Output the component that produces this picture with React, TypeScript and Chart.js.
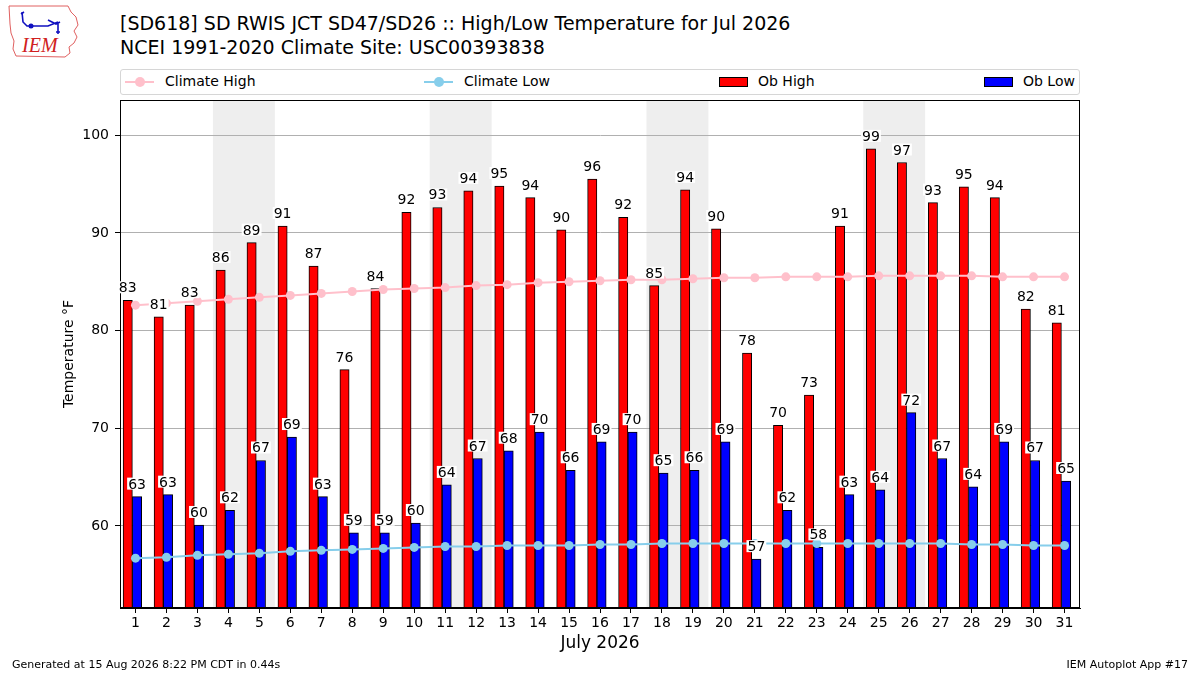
import React, { useEffect, useRef } from 'react';
import { Chart, registerables } from 'chart.js';

Chart.register(...registerables);

const DAYS = [1, 2, 3, 4, 5, 6, 7, 8, 9, 10, 11, 12, 13, 14, 15, 16, 17, 18, 19, 20, 21, 22, 23, 24, 25, 26, 27, 28, 29, 30, 31];

const OB_HIGH = [83.1, 81.4, 82.6, 86.2, 89.0, 90.7, 86.6, 76.0, 84.3, 92.1, 92.6, 94.3, 94.8, 93.6, 90.3, 95.5, 91.6, 84.6, 94.4, 90.4, 77.7, 70.3, 73.4, 90.7, 98.6, 97.2, 93.1, 94.7, 93.6, 82.2, 80.8];
const OB_LOW = [63.0, 63.2, 60.1, 61.6, 66.7, 69.1, 63.0, 59.3, 59.3, 60.3, 64.2, 66.9, 67.7, 69.6, 65.7, 68.6, 69.6, 65.4, 65.7, 68.6, 56.6, 61.6, 57.8, 63.2, 63.7, 71.6, 66.9, 64.0, 68.6, 66.7, 64.6];
const CLIMATE_HIGH = [82.6, 82.8, 83.0, 83.2, 83.4, 83.6, 83.8, 84.0, 84.2, 84.3, 84.4, 84.6, 84.7, 84.9, 85.0, 85.1, 85.2, 85.2, 85.3, 85.4, 85.4, 85.5, 85.5, 85.5, 85.6, 85.6, 85.6, 85.6, 85.5, 85.5, 85.5];
const CLIMATE_LOW = [56.7, 56.8, 57.0, 57.1, 57.2, 57.4, 57.5, 57.6, 57.7, 57.8, 57.9, 57.9, 58.0, 58.0, 58.0, 58.1, 58.1, 58.2, 58.2, 58.2, 58.2, 58.2, 58.2, 58.2, 58.2, 58.2, 58.2, 58.1, 58.1, 58.0, 58.0];

// weekends (Sat/Sun) of July 2026, listed by the Saturday
const WEEKEND_SATURDAYS = [4, 11, 18, 25];
const Y_TICKS = [60, 70, 80, 90, 100];

const FONT = '"DejaVu Sans", sans-serif';

// grey bands for the weekends, drawn under the grid
const weekendPlugin = {
  id: 'weekends',
  beforeDraw(chart: any) {
    const { ctx, chartArea, scales } = chart;
    ctx.save();
    ctx.fillStyle = '#eeeeee';
    WEEKEND_SATURDAYS.forEach((d) => {
      const x0 = scales.x.getPixelForValue(d - 0.5);
      const x1 = scales.x.getPixelForValue(d + 1.5);
      ctx.fillRect(x0, chartArea.top, x1 - x0, chartArea.bottom - chartArea.top);
    });
    ctx.restore();
  },
};

// value labels over the bars plus the axes frame
const barLabelPlugin = {
  id: 'barLabels',
  afterDatasetsDraw(chart: any) {
    const { ctx, chartArea } = chart;
    ctx.save();
    ctx.strokeStyle = '#000';
    ctx.lineWidth = 1;
    ctx.strokeRect(chartArea.left + 0.5, chartArea.top + 0.5, chartArea.right - chartArea.left - 1, chartArea.bottom - chartArea.top - 1);

    ctx.font = '14px ' + FONT;
    ctx.textAlign = 'center';
    ctx.textBaseline = 'alphabetic';
    chart.data.datasets.forEach((ds: any, i: number) => {
      if (ds.type !== 'bar') return;
      const meta = chart.getDatasetMeta(i);
      meta.data.forEach((bar: any, j: number) => {
        const txt = ds.data[j].y.toFixed(0);
        const w = ctx.measureText(txt).width;
        const base = bar.y - 8;
        ctx.fillStyle = '#fff';
        ctx.fillRect(bar.x - w / 2 - 1, base - 11, w + 2, 12);
        ctx.fillStyle = '#000';
        ctx.fillText(txt, bar.x, base);
      });
    });
    ctx.restore();
  },
};

function LegendLine({ left, color, label, textLeft }: { left: number; color: string; label: string; textLeft: number }) {
  return (
    <>
      <div style={{ position: 'absolute', left, top: 11, width: 29, height: 2, background: color }} />
      <div style={{ position: 'absolute', left: left + 10, top: 7, width: 10, height: 10, borderRadius: 5, background: color }} />
      <div style={{ position: 'absolute', left: textLeft, top: 3, fontSize: 14, lineHeight: '17px' }}>{label}</div>
    </>
  );
}

function LegendBox({ left, color, label, textLeft }: { left: number; color: string; label: string; textLeft: number }) {
  return (
    <>
      <div style={{ position: 'absolute', left, top: 7, width: 27, height: 8, background: color, border: '1px solid #000' }} />
      <div style={{ position: 'absolute', left: textLeft, top: 3, fontSize: 14, lineHeight: '17px' }}>{label}</div>
    </>
  );
}

export default function App() {
  const canvasRef = useRef<HTMLCanvasElement>(null);

  useEffect(() => {
    if (!canvasRef.current) return;
    const chart = new Chart(canvasRef.current, {
      type: 'bar',
      data: {
        datasets: [
          {
            type: 'line',
            label: 'Climate High',
            data: DAYS.map((d, i) => ({ x: d, y: CLIMATE_HIGH[i] })),
            borderColor: '#ffc0cb',
            backgroundColor: '#ffc0cb',
            borderWidth: 2,
            pointRadius: 4.5,
            pointBorderWidth: 0,
          },
          {
            type: 'line',
            label: 'Climate Low',
            data: DAYS.map((d, i) => ({ x: d, y: CLIMATE_LOW[i] })),
            borderColor: '#87ceeb',
            backgroundColor: '#87ceeb',
            borderWidth: 2,
            pointRadius: 4.5,
            pointBorderWidth: 0,
          },
          {
            type: 'bar',
            label: 'Ob High',
            data: DAYS.map((d, i) => ({ x: d - 0.25, y: OB_HIGH[i] })),
            backgroundColor: '#ff0000',
            borderColor: '#000',
            borderWidth: 1,
            borderSkipped: false,
            grouped: false,
            barPercentage: 1,
            categoryPercentage: 1,
          },
          {
            type: 'bar',
            label: 'Ob Low',
            data: DAYS.map((d, i) => ({ x: d + 0.05, y: OB_LOW[i] })),
            backgroundColor: '#0000ff',
            borderColor: '#000',
            borderWidth: 1,
            borderSkipped: false,
            grouped: false,
            barPercentage: 1,
            categoryPercentage: 1,
          },
        ] as any,
      },
      options: {
        animation: false,
        responsive: true,
        maintainAspectRatio: false,
        layout: { padding: { left: 0, top: 100, right: 120, bottom: 0 } },
        plugins: {
          legend: { display: false },
          tooltip: { enabled: false },
        },
        scales: {
          x: {
            type: 'linear',
            offset: false,
            min: 0.5,
            max: 31.5,
            afterBuildTicks: (scale: any) => {
              scale.ticks = DAYS.map((d) => ({ value: d }));
            },
            afterFit: (scale: any) => {
              scale.height = 67;
            },
            grid: { offset: false, drawOnChartArea: false, drawTicks: true, tickLength: 5, tickColor: '#000' },
            border: { display: true, color: '#000' },
            ticks: { color: '#000', font: { family: FONT, size: 14 }, padding: 2, autoSkip: false, maxRotation: 0 },
            title: {
              display: true,
              text: 'July 2026',
              color: '#000',
              font: { family: FONT, size: 17 },
              padding: { top: 0, bottom: 21 },
            },
          },
          y: {
            min: 51.6,
            max: 103.6,
            afterBuildTicks: (scale: any) => {
              scale.ticks = Y_TICKS.map((v) => ({ value: v }));
            },
            afterFit: (scale: any) => {
              scale.width = 120;
            },
            grid: { color: '#b0b0b0', lineWidth: 1, tickLength: 5, tickColor: '#000' },
            border: { display: true, color: '#000' },
            ticks: { color: '#000', font: { family: FONT, size: 14 }, padding: 6 },
            title: {
              display: true,
              text: 'Temperature °F',
              color: '#000',
              font: { family: FONT, size: 14 },
              padding: { top: 61, bottom: 0 },
            },
          },
        },
      },
      plugins: [weekendPlugin, barLabelPlugin],
    });
    return () => chart.destroy();
  }, []);

  return (
    <div style={{ position: 'absolute', left: 0, top: 0, width: 1200, height: 675, background: '#fff', fontFamily: FONT, color: '#000', overflow: 'hidden' }}>
      <svg style={{ position: 'absolute', left: 0, top: 0 }} width={90} height={65}>
        <path d="M9 6 L68 6 L71 12 L76 17 L78 25 L74 31 L77 37 L74 43 L69 47 L70 53 L65 57 L16 56 L13 49 L14 41 L11 33 L10 24 Z" fill="none" stroke="#e06060" strokeWidth={1} />
        <path d="M21 14 L24 12 M22 12 L23 22 L27 26 L48 26 L58 22 M48 20 L56 24 L60 22 M58 22 L58 34 M56 32 L60 32" fill="none" stroke="#1010c0" strokeWidth={1.6} />
        <circle cx={31} cy={26} r={2.5} fill="#1010c0" />
        <text x={22} y={52} fill="#d02020" fontFamily="Liberation Serif, serif" fontStyle="italic" fontSize={20}>IEM</text>
      </svg>
      <div style={{ position: 'absolute', left: 120, top: 11, fontSize: 19, lineHeight: '24px', whiteSpace: 'nowrap' }}>
        [SD618] SD RWIS JCT SD47/SD26 :: High/Low Temperature for Jul 2026
        <br />
        NCEI 1991-2020 Climate Site: USC00393838
      </div>
      <div style={{ position: 'absolute', left: 120, top: 69, width: 958, height: 24, border: '1px solid #d6d6d6', borderRadius: 3 }}>
        <LegendLine left={4} color="#ffc0cb" label="Climate High" textLeft={44} />
        <LegendLine left={303} color="#87ceeb" label="Climate Low" textLeft={343} />
        <LegendBox left={598} color="#ff0000" label="Ob High" textLeft={637} />
        <LegendBox left={863} color="#0000ff" label="Ob Low" textLeft={902} />
      </div>
      <div style={{ position: 'absolute', left: 0, top: 0, width: 1200, height: 675 }}>
        <canvas ref={canvasRef} />
      </div>
      <div style={{ position: 'absolute', left: 12, top: 658, fontSize: 11 }}>Generated at 15 Aug 2026 8:22 PM CDT in 0.44s</div>
      <div style={{ position: 'absolute', right: 12, top: 658, fontSize: 11 }}>IEM Autoplot App #17</div>
    </div>
  );
}
